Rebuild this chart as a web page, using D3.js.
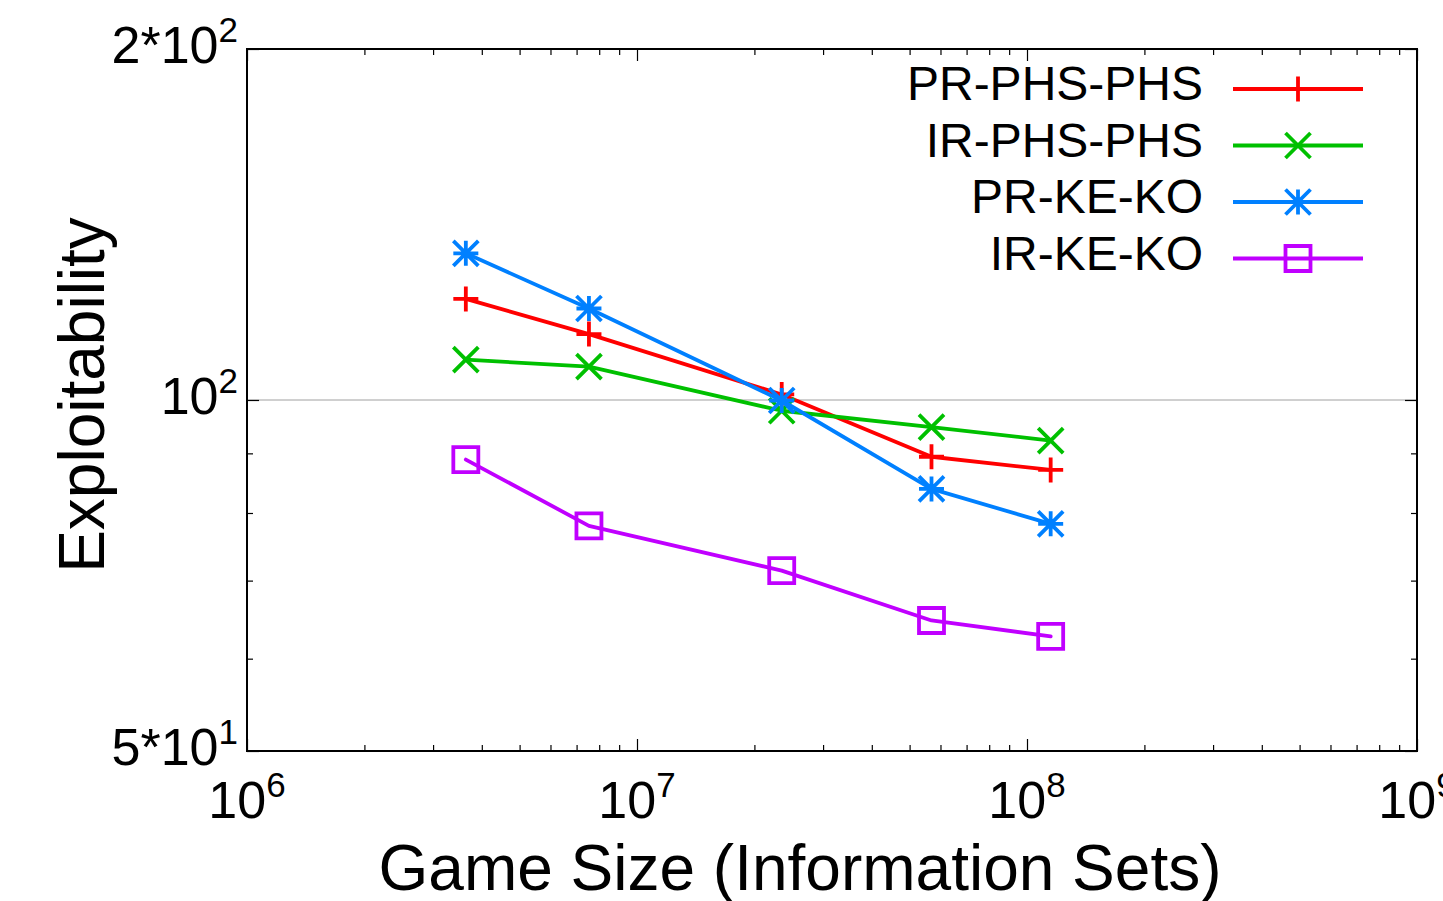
<!DOCTYPE html>
<html>
<head>
<meta charset="utf-8">
<script src="https://cdn.jsdelivr.net/npm/d3@7"></script>
<style>
  body { margin: 0; background: #fff; }
  text { font-family: "Liberation Sans", Arial, Helvetica, sans-serif; fill: #000; }
</style>
</head>
<body>
<div id="Diagram"></div>
<script>
// game sizes (information sets)
var gameSizes = [3.64e6, 7.53e6, 2.35e7, 5.69e7, 1.15e8];
var seriesNames = ["PR-PHS-PHS", "IR-PHS-PHS", "PR-KE-KO", "IR-KE-KO"];
var prPhsPhs = [122.1, 113.9, 101.1, 89.4, 87.1];
var irPhsPhs = [108.3, 106.8, 97.9, 94.8, 92.3];
var prKeKo = [133.6, 119.8, 99.9, 83.9, 78.3];
var irKeKo = [88.9, 78.0, 71.4, 64.7, 62.7];
var seriesColors = ["#ff0000", "#00c000", "#0080ff", "#c000ff"];
var seriesMarkers = ["plus", "cross", "star", "square"];

var xTicks = [1e6, 1e7, 1e8, 1e9];
var xTickExp = ["6", "7", "8", "9"];
var yTicks = [50, 100, 200];
var yTickBase = ["5*10", "10", "2*10"];
var yTickExp = ["1", "2", "2"];
var yMinorTicks = [60, 70, 80, 90];

var width = 1443, height = 901;
var margin = {"left": 247, "right": 26, "top": 49, "bottom": 150};
var w = width - margin.left - margin.right, h = height - margin.top - margin.bottom;

var svg = d3.select("#Diagram").append("svg")
    .attr("width", width)
    .attr("height", height);
var g = svg.append("g")
    .attr("transform", "translate(" + margin.left + "," + margin.top + ")");

var x = d3.scaleLog().domain([1e6, 1e9]).range([0, w]);
var y = d3.scaleLog().domain([50, 200]).range([h, 0]);

// minor x ticks 2..9 per decade
var xMinor = [];
[1e6, 1e7, 1e8].forEach(function(d) {
    for (var k = 2; k <= 9; k++) xMinor.push(d * k);
});

// grid line at 10^2
g.append("line")
    .attr("x1", 0).attr("x2", w)
    .attr("y1", y(100)).attr("y2", y(100))
    .attr("stroke", "#a0a0a0").attr("stroke-width", 1);

function styleAxis(sel) {
    sel.select(".domain").remove();
    sel.selectAll(".tick line").attr("stroke", "#000").attr("stroke-width", 1.2);
    sel.selectAll(".tick text").remove();
}

// x axis ticks, bottom and top, pointing inward
g.append("g").attr("transform", "translate(0," + h + ")")
    .call(d3.axisBottom(x).tickValues(xTicks).tickSize(-12)).call(styleAxis);
g.append("g").attr("transform", "translate(0," + h + ")")
    .call(d3.axisBottom(x).tickValues(xMinor).tickSize(-6)).call(styleAxis);
g.append("g")
    .call(d3.axisTop(x).tickValues(xTicks).tickSize(-12)).call(styleAxis);
g.append("g")
    .call(d3.axisTop(x).tickValues(xMinor).tickSize(-6)).call(styleAxis);

// y axis ticks, left and right
g.append("g").call(d3.axisLeft(y).tickValues(yTicks).tickSize(-12)).call(styleAxis);
g.append("g").call(d3.axisLeft(y).tickValues(yMinorTicks).tickSize(-6)).call(styleAxis);
g.append("g").attr("transform", "translate(" + w + ",0)")
    .call(d3.axisRight(y).tickValues(yTicks).tickSize(-12)).call(styleAxis);
g.append("g").attr("transform", "translate(" + w + ",0)")
    .call(d3.axisRight(y).tickValues(yMinorTicks).tickSize(-6)).call(styleAxis);

// x tick labels
xTicks.forEach(function(d, i) {
    var t = g.append("text")
        .attr("x", x(d)).attr("y", h + 67)
        .attr("text-anchor", "middle")
        .style("font-size", "52px");
    t.append("tspan").text("10");
    t.append("tspan").attr("dy", -21).style("font-size", "35px").text(xTickExp[i]);
});

// y tick labels
yTicks.forEach(function(d, i) {
    var t = g.append("text")
        .attr("x", -9).attr("y", y(d) + 14)
        .attr("text-anchor", "end")
        .style("font-size", "52px");
    t.append("tspan").text(yTickBase[i]);
    t.append("tspan").attr("dy", -21).style("font-size", "35px").text(yTickExp[i]);
});

// frame
g.append("rect")
    .attr("x", 0).attr("y", 0).attr("width", w).attr("height", h)
    .attr("fill", "none").attr("stroke", "#000").attr("stroke-width", 2);

// axis titles
svg.append("text")
    .attr("x", 800).attr("y", 890)
    .attr("text-anchor", "middle")
    .style("font-size", "64px")
    .text("Game Size (Information Sets)");
svg.append("text")
    .attr("transform", "translate(104,395) rotate(-90)")
    .attr("text-anchor", "middle")
    .style("font-size", "64px")
    .text("Exploitability");

// marker shapes
function markerPath(type, s) {
    if (type == "plus") return "M" + (-s) + ",0H" + s + "M0," + (-s) + "V" + s;
    if (type == "cross") return "M" + (-s) + "," + (-s) + "L" + s + "," + s + "M" + (-s) + "," + s + "L" + s + "," + (-s);
    if (type == "star") return "M" + (-s) + ",0H" + s + "M0," + (-s) + "V" + s +
        "M" + (-s) + "," + (-s) + "L" + s + "," + s + "M" + (-s) + "," + s + "L" + s + "," + (-s);
    return "M" + (-s) + "," + (-s) + "H" + s + "V" + s + "H" + (-s) + "Z";
}

var allSeries = [prPhsPhs, irPhsPhs, prKeKo, irKeKo];
var line = d3.line()
    .x(function(d, i) { return x(gameSizes[i]); })
    .y(function(d) { return y(d); });

allSeries.forEach(function(vals, si) {
    g.append("path")
        .datum(vals)
        .attr("d", line)
        .attr("fill", "none")
        .attr("stroke", seriesColors[si])
        .attr("stroke-width", 3.8)
        .attr("stroke-linejoin", "round")
        .attr("stroke-linecap", "round");
    g.selectAll(".pt" + si)
        .data(vals)
        .enter()
        .append("path")
        .attr("class", "pt" + si)
        .attr("transform", function(d, i) { return "translate(" + x(gameSizes[i]) + "," + y(d) + ")"; })
        .attr("d", markerPath(seriesMarkers[si], 12.5))
        .attr("fill", "none")
        .attr("stroke", seriesColors[si])
        .attr("stroke-width", 3.8);
});

// legend
var legend = svg.append("g");
seriesNames.forEach(function(name, i) {
    var ly = 89 + i * 56.5;
    legend.append("text")
        .attr("x", 1203).attr("y", ly + 11)
        .attr("text-anchor", "end")
        .style("font-size", "48px")
        .text(name);
    legend.append("line")
        .attr("x1", 1233).attr("x2", 1363)
        .attr("y1", ly).attr("y2", ly)
        .attr("stroke", seriesColors[i]).attr("stroke-width", 3.8);
    legend.append("path")
        .attr("transform", "translate(1298," + ly + ")")
        .attr("d", markerPath(seriesMarkers[i], 12.5))
        .attr("fill", "none")
        .attr("stroke", seriesColors[i])
        .attr("stroke-width", 3.8);
});
</script>
</body>
</html>
